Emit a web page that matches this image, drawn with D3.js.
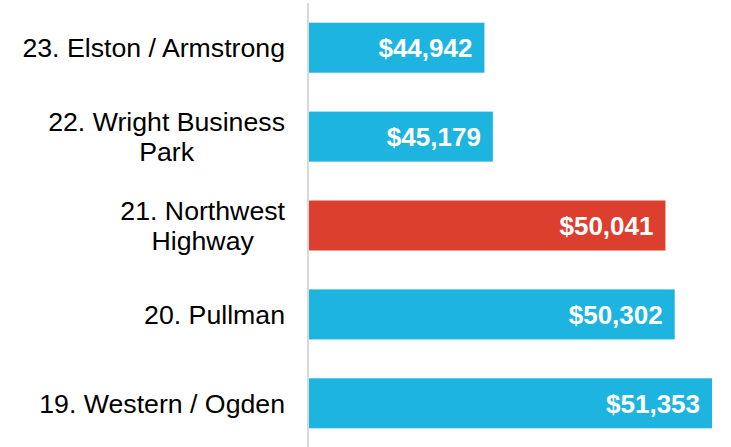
<!DOCTYPE html>
<html>
<head>
<meta charset="utf-8">
<script src="https://cdn.jsdelivr.net/npm/d3@7"></script>
<style>
  body { margin: 0; background: #fff; }
  svg { display: block; font-family: "Liberation Sans", Arial, sans-serif; }
</style>
</head>
<body>
<div class="chart"></div>
<script>
// data
const neighborhoods = [
  "23. Elston / Armstrong",
  "22. Wright Business\nPark",
  "21. Northwest\nHighway",
  "20. Pullman",
  "19. Western / Ogden"
];
const incomes = [44942, 45179, 50041, 50302, 51353];
const highlighted = ["21. Northwest\nHighway"];

const width = 731, height = 447;

const svg = d3.select(".chart").append("svg")
  .attr("width", width)
  .attr("height", height);

const x = d3.scaleLinear()
  .domain([40000, 52000])
  .range([309, 735]);

const y = d3.scaleBand()
  .domain(neighborhoods)
  .range([2, 449])
  .paddingInner(0.4375)
  .paddingOuter(0.233);

const rows = neighborhoods.map((n, i) => ({ name: n, value: incomes[i] }));

// bars
svg.selectAll("rect.bar")
  .data(rows)
  .join("rect")
  .attr("class", "bar")
  .attr("x", x(40000))
  .attr("y", d => y(d.name))
  .attr("width", d => x(d.value) - x(40000))
  .attr("height", y.bandwidth())
  .attr("fill", d => highlighted.includes(d.name) ? "#DC3F2D" : "#1EB4E0");

// axis line
svg.append("line")
  .attr("x1", 308).attr("x2", 308)
  .attr("y1", 3).attr("y2", height)
  .attr("stroke", "#d9d9d9")
  .attr("stroke-width", 2);

// value labels
const fmt = d3.format("$,");
svg.selectAll("text.val")
  .data(rows)
  .join("text")
  .attr("class", "val")
  .attr("x", d => x(d.value) - 12)
  .attr("y", d => y(d.name) + y.bandwidth() / 2)
  .attr("dy", "0.36em")
  .attr("text-anchor", "end")
  .attr("fill", "#fff")
  .style("font-size", "26px")
  .style("font-weight", "bold")
  .text(d => fmt(d.value));

// category labels: block right-aligned at 285, lines centered inside block
const lineH = 29.5;
const labels = svg.selectAll("g.lab")
  .data(rows)
  .join("g")
  .attr("class", "lab");

labels.each(function (d) {
  const g = d3.select(this);
  const lines = d.name.split("\n");
  const t = g.append("text")
    .style("font-size", "26.7px")
    .attr("fill", "#000")
    .attr("text-anchor", "middle");
  const cy = y(d.name) + y.bandwidth() / 2;
  const top = cy - (lines.length - 1) * lineH / 2;
  const spans = lines.map((l, i) => t.append("tspan")
    .attr("y", top + i * lineH)
    .attr("dy", "0.36em")
    .text(l));
  const maxW = d3.max(spans, s => s.node().getComputedTextLength());
  spans.forEach(s => s.attr("x", 285 - maxW / 2));
});
</script>
</body>
</html>
